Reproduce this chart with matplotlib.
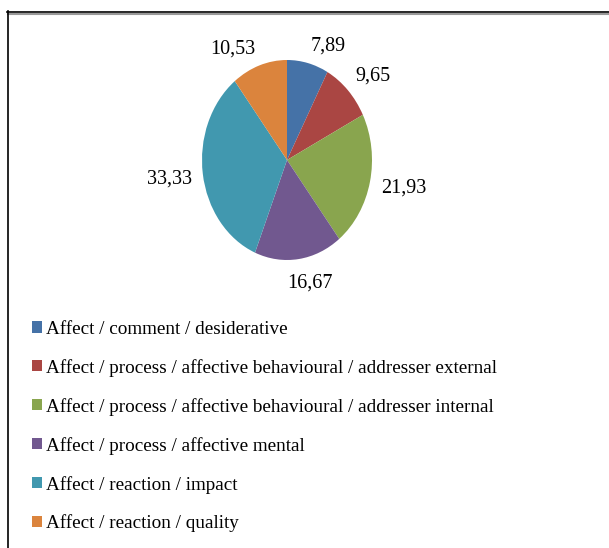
import numpy as np
import matplotlib.pyplot as plt
from matplotlib.patches import Patch
from matplotlib.lines import Line2D

categories = [
    "Affect / comment / desiderative",
    "Affect / process / affective behavioural / addresser external",
    "Affect / process / affective behavioural / addresser internal",
    "Affect / process / affective mental",
    "Affect / reaction / impact",
    "Affect / reaction / quality",
]
values = [7.89, 9.65, 21.93, 16.67, 33.33, 10.53]
value_labels = ["7,89", "9,65", "21,93", "16,67", "33,33", "10,53"]
colors = ["#4572A7", "#AA4643", "#89A54E", "#71588F", "#4198AF", "#DB843D"]

plt.rcParams['font.family'] = ['Liberation Serif', 'DejaVu Serif']

W, H = 609, 548
fig = plt.figure(figsize=(W / 100, H / 100), dpi=100)

# pie axes: centre (287,160), 170 x 200 px (elliptical, as in the original)
ax = fig.add_axes([(287 - 85) / W, 1 - 260 / H, 170 / W, 200 / H])
wedges, _ = ax.pie(values, colors=colors, startangle=90, counterclock=False,
                   wedgeprops=dict(linewidth=0))
ax.set_aspect('auto')
ax.set_xlim(-1, 1)
ax.set_ylim(-1, 1)

# data labels just outside the pie edge, Excel-style
for w, lab in zip(wedges, value_labels):
    ang = np.deg2rad((w.theta1 + w.theta2) / 2)
    c, s = np.cos(ang), np.sin(ang)
    ha = 'left' if c > 0.2 else ('right' if c < -0.2 else 'center')
    va = 'bottom' if s > 0.3 else ('top' if s < -0.3 else 'center')
    dx = 7 if ha == 'center' else 0
    ax.annotate(lab, xy=(c, s), xytext=(8 * c + dx, 8 * s - 2.5),
                textcoords='offset points',
                ha=ha, va=va, fontsize=14.5, annotation_clip=False)

handles = [Patch(facecolor=c, edgecolor='none') for c in colors]
fig.legend(handles, categories, loc='upper left',
           bbox_to_anchor=(24 / W, 1 - 313 / H), frameon=False,
           fontsize=13.8, handlelength=0.53, handleheight=0.53,
           handletextpad=0.2, labelspacing=1.1, borderaxespad=0)

# chart-area border (top and left edges only are visible)
fig.add_artist(Line2D([7 / W, 1], [1 - 11.5 / H] * 2, color='black', lw=1.2))
fig.add_artist(Line2D([8 / W, 1], [1 - 13.5 / H] * 2, color='#999999', lw=1.5))
fig.add_artist(Line2D([7.5 / W] * 2, [0, 1 - 11 / H], color='black', lw=1.2))

fig.savefig("out.png", dpi=100)
